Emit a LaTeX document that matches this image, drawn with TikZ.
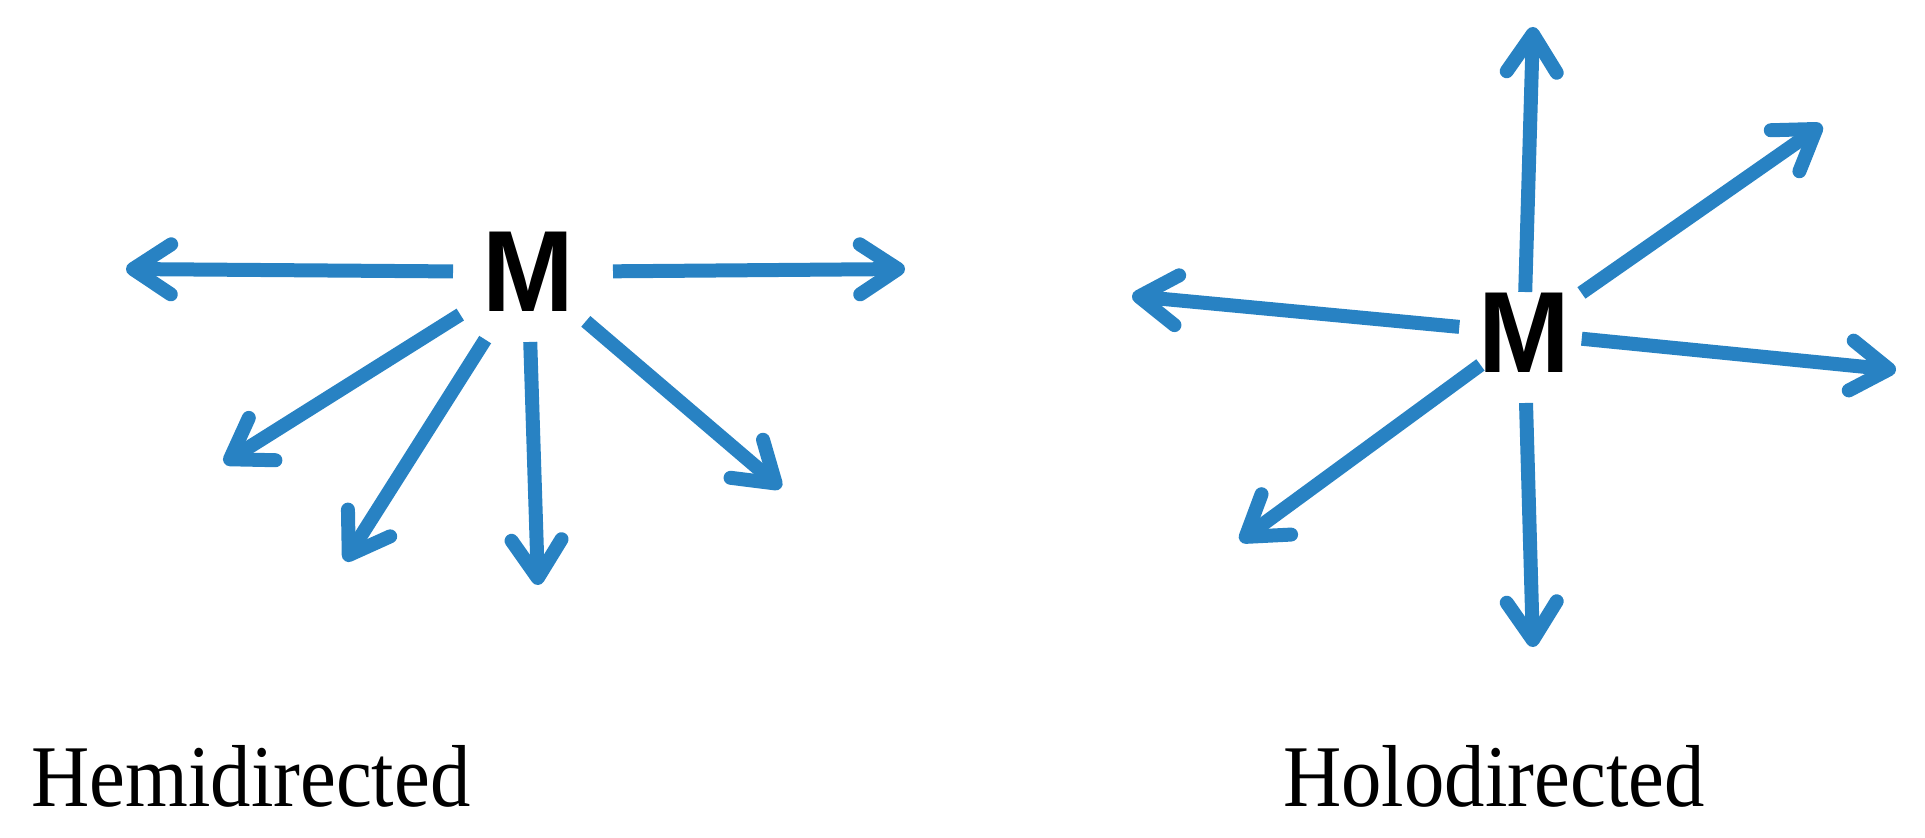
\documentclass[tikz,border=0pt]{standalone}
\usepackage{fontspec}
\setmainfont{Liberation Serif}
\newfontfamily\arialfont{Liberation Sans}
\usetikzlibrary{arrows.meta}
\definecolor{arrowblue}{RGB}{40,130,195}
\begin{document}
\begin{tikzpicture}[x=0.5pt,y=-0.5pt,
  bond/.style={line width=7pt, draw=arrowblue, -{Straight Barb[length=19pt,width=25pt,round]}},
  metal/.style={font=\arialfont\bfseries\fontsize{55}{60}\selectfont, inner sep=0pt, outer sep=0pt, yscale=1.05},
  caption/.style={font=\fontsize{44}{50}\selectfont, inner sep=0pt, anchor=base west, xscale=0.917}]
\useasboundingbox (0,0) rectangle (1925,838);
% Hemidirected
\node[metal] (M1) at (528,272) {M};
\coordinate (h1) at (126,269);
\coordinate (h2) at (905,269);
\coordinate (h3) at (224,463);
\coordinate (h4) at (345,561);
\coordinate (h5) at (538,585);
\coordinate (h6) at (781,488);
\draw[bond, shorten <=37.5pt] (M1.center) -- (h1);
\draw[bond, shorten <=42.5pt] (M1.center) -- (h2);
\draw[bond, shorten <=40pt] (M1.center) -- (h3);
\draw[bond, shorten <=40pt] (M1.center) -- (h4);
\draw[bond, shorten <=35pt] (M1.center) -- (h5);
\draw[bond, shorten <=38pt] (M1.center) -- (h6);
% Holodirected
\node[metal] (M2) at (1524,333) {M};
\coordinate (o1) at (1533,27);
\coordinate (o2) at (1822,125);
\coordinate (o3) at (1132,296);
\coordinate (o4) at (1896,370);
\coordinate (o5) at (1240,541);
\coordinate (o6) at (1533,647);
\draw[bond, shorten <=20.5pt] (M2.center) -- (o1);
\draw[bond, shorten <=35pt] (M2.center) -- (o2);
\draw[bond, shorten <=32.5pt] (M2.center) -- (o3);
\draw[bond, shorten <=29pt] (M2.center) -- (o4);
\draw[bond, shorten <=27pt] (M2.center) -- (o5);
\draw[bond, shorten <=35pt] (M2.center) -- (o6);
% Captions
\node[caption] (c1) at (31,806) {Hemidirected};
\node[caption] (c2) at (1283,806) {Holodirected};
\end{tikzpicture}
\end{document}
